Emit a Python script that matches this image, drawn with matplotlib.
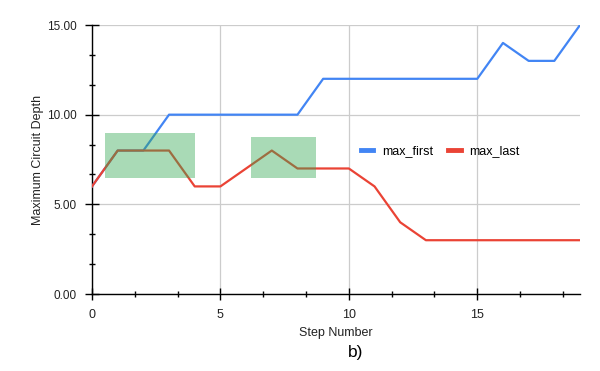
import matplotlib
matplotlib.use("Agg")
import matplotlib.pyplot as plt
from matplotlib.ticker import MultipleLocator, FormatStrFormatter
from matplotlib.patches import Rectangle
from matplotlib.lines import Line2D

plt.rcParams['font.family'] = ['Liberation Sans', 'DejaVu Sans']

steps = list(range(20))
max_first = [6, 8, 8, 10, 10, 10, 10, 10, 10, 12, 12, 12, 12, 12, 12, 12, 14, 13, 13, 15]
max_last = [6, 8, 8, 8, 6, 6, 7, 8, 7, 7, 7, 6, 4, 3, 3, 3, 3, 3, 3, 3]
# highlight boxes: (x0, x1, y0, y1)
boxes = [(0.5, 4.0, 6.47, 8.98), (6.2, 8.72, 6.47, 8.76)]

fig = plt.figure(figsize=(6, 3.71), dpi=100)
ax = fig.add_axes([0.1533, 0.2075, 0.8134, 0.7251])

blue = '#4285f4'
red = '#ea4335'
ax.plot(steps, max_first, color=blue, lw=1.6, zorder=3)
ax.plot(steps, max_last, color=red, lw=1.6, zorder=3)

for x0, x1, y0, y1 in boxes:
    ax.add_patch(Rectangle((x0, y0), x1 - x0, y1 - y0, facecolor='#34a853',
                           alpha=0.42, edgecolor='none', zorder=4))

ax.set_xlim(0, 19)
ax.set_ylim(0, 15)
ax.xaxis.set_major_locator(MultipleLocator(5))
ax.xaxis.set_minor_locator(MultipleLocator(5 / 3))
ax.yaxis.set_major_locator(MultipleLocator(5))
ax.yaxis.set_minor_locator(MultipleLocator(5 / 3))
ax.yaxis.set_major_formatter(FormatStrFormatter('%.2f'))

ax.grid(True, which='major', color='#cccccc', lw=0.9, zorder=0)
for s in ['top', 'right']:
    ax.spines[s].set_visible(False)
for s in ['left', 'bottom']:
    ax.spines[s].set_color('black')
    ax.spines[s].set_linewidth(1.0)

ax.tick_params(axis='both', which='minor', direction='inout', length=5, width=1,
               colors='black')
ax.tick_params(axis='y', which='major', direction='inout', length=10, width=1,
               labelsize=8.5, colors='black', labelcolor='#222222', pad=6)
ax.tick_params(axis='x', which='major', direction='inout', length=8, width=1,
               labelsize=9, colors='black', labelcolor='#222222', pad=7)

ax.set_xlabel('Step Number', fontsize=9, color='#222222', labelpad=4)
ax.set_ylabel('Maximum Circuit Depth', fontsize=9, color='#222222', labelpad=2)

handles = [Line2D([], [], color=blue, lw=3.5), Line2D([], [], color=red, lw=3.5)]
ax.legend(handles, ['max_first', 'max_last'], loc='center', bbox_to_anchor=(0.714, 0.532),
          ncol=2, frameon=False, fontsize=9, handlelength=1.0, handletextpad=0.7,
          columnspacing=1.2)

fig.text(0.592, 0.05, 'b)', fontsize=12.5, ha='center', va='center')

fig.savefig('out.png', dpi=100, facecolor='white')
